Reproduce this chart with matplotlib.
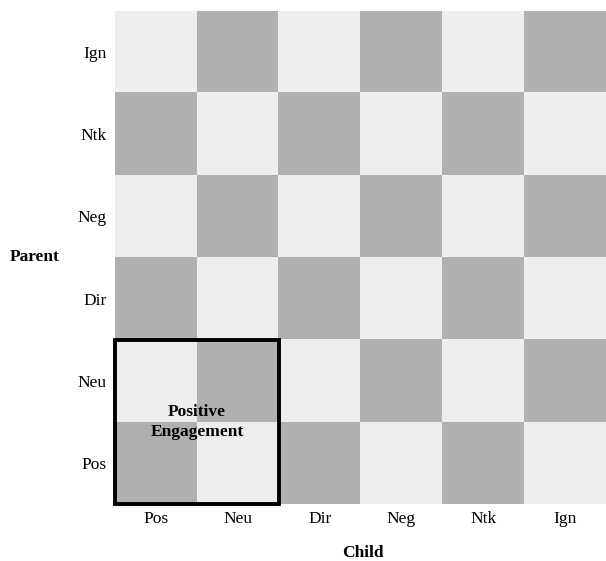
import numpy as np
import matplotlib.pyplot as plt
from matplotlib.patches import Rectangle
from matplotlib.colors import ListedColormap

child = ["Pos", "Neu", "Dir", "Neg", "Ntk", "Ign"]
parent = ["Pos", "Neu", "Dir", "Neg", "Ntk", "Ign"]
# 1 = dark cell, 0 = light cell (rows listed bottom to top)
cells = [
    [1, 0, 1, 0, 1, 0],
    [0, 1, 0, 1, 0, 1],
    [1, 0, 1, 0, 1, 0],
    [0, 1, 0, 1, 0, 1],
    [1, 0, 1, 0, 1, 0],
    [0, 1, 0, 1, 0, 1],
]
box_label = "Positive\nEngagement"

plt.rcParams['font.family'] = ['Liberation Serif', 'DejaVu Serif']

fig = plt.figure(figsize=(6.06, 5.61), dpi=100)
ax = fig.add_axes([0.1898, 0.1016, 0.8102, 0.8788])

cmap = ListedColormap(["#eeeeee", "#b0b0b0"])
ax.imshow(np.array(cells), cmap=cmap, origin="lower", aspect="auto",
          extent=(-0.5, 5.5, -0.5, 5.5))

ax.add_patch(Rectangle((-0.5, -0.5), 2, 2, fill=False, edgecolor="black",
                       linewidth=2.8, clip_on=False, zorder=3))
# label sits on the shared corner of the four cells
ax.text(0.5, 0.5, box_label, ha="center", va="center", fontsize=12.5,
        fontweight="bold", linespacing=1.3, zorder=4)

ax.set_xticks(range(len(child)))
ax.set_xticklabels(child, fontsize=12.5)
ax.set_yticks(range(len(parent)))
ax.set_yticklabels(parent, fontsize=12.5)
ax.tick_params(axis="x", length=0, pad=5)
ax.tick_params(axis="y", length=0, pad=6)
for s in ax.spines.values():
    s.set_visible(False)

ax.set_xlabel("Child", fontsize=12.5, fontweight="bold", va="center")
ax.set_ylabel("Parent", fontsize=12.5, fontweight="bold", rotation=0,
              ha="left", va="center")
ax.yaxis.set_label_coords(-0.214, 0.5)
ax.xaxis.set_label_coords(0.505, -0.099)

fig.savefig("out.png", dpi=100)
